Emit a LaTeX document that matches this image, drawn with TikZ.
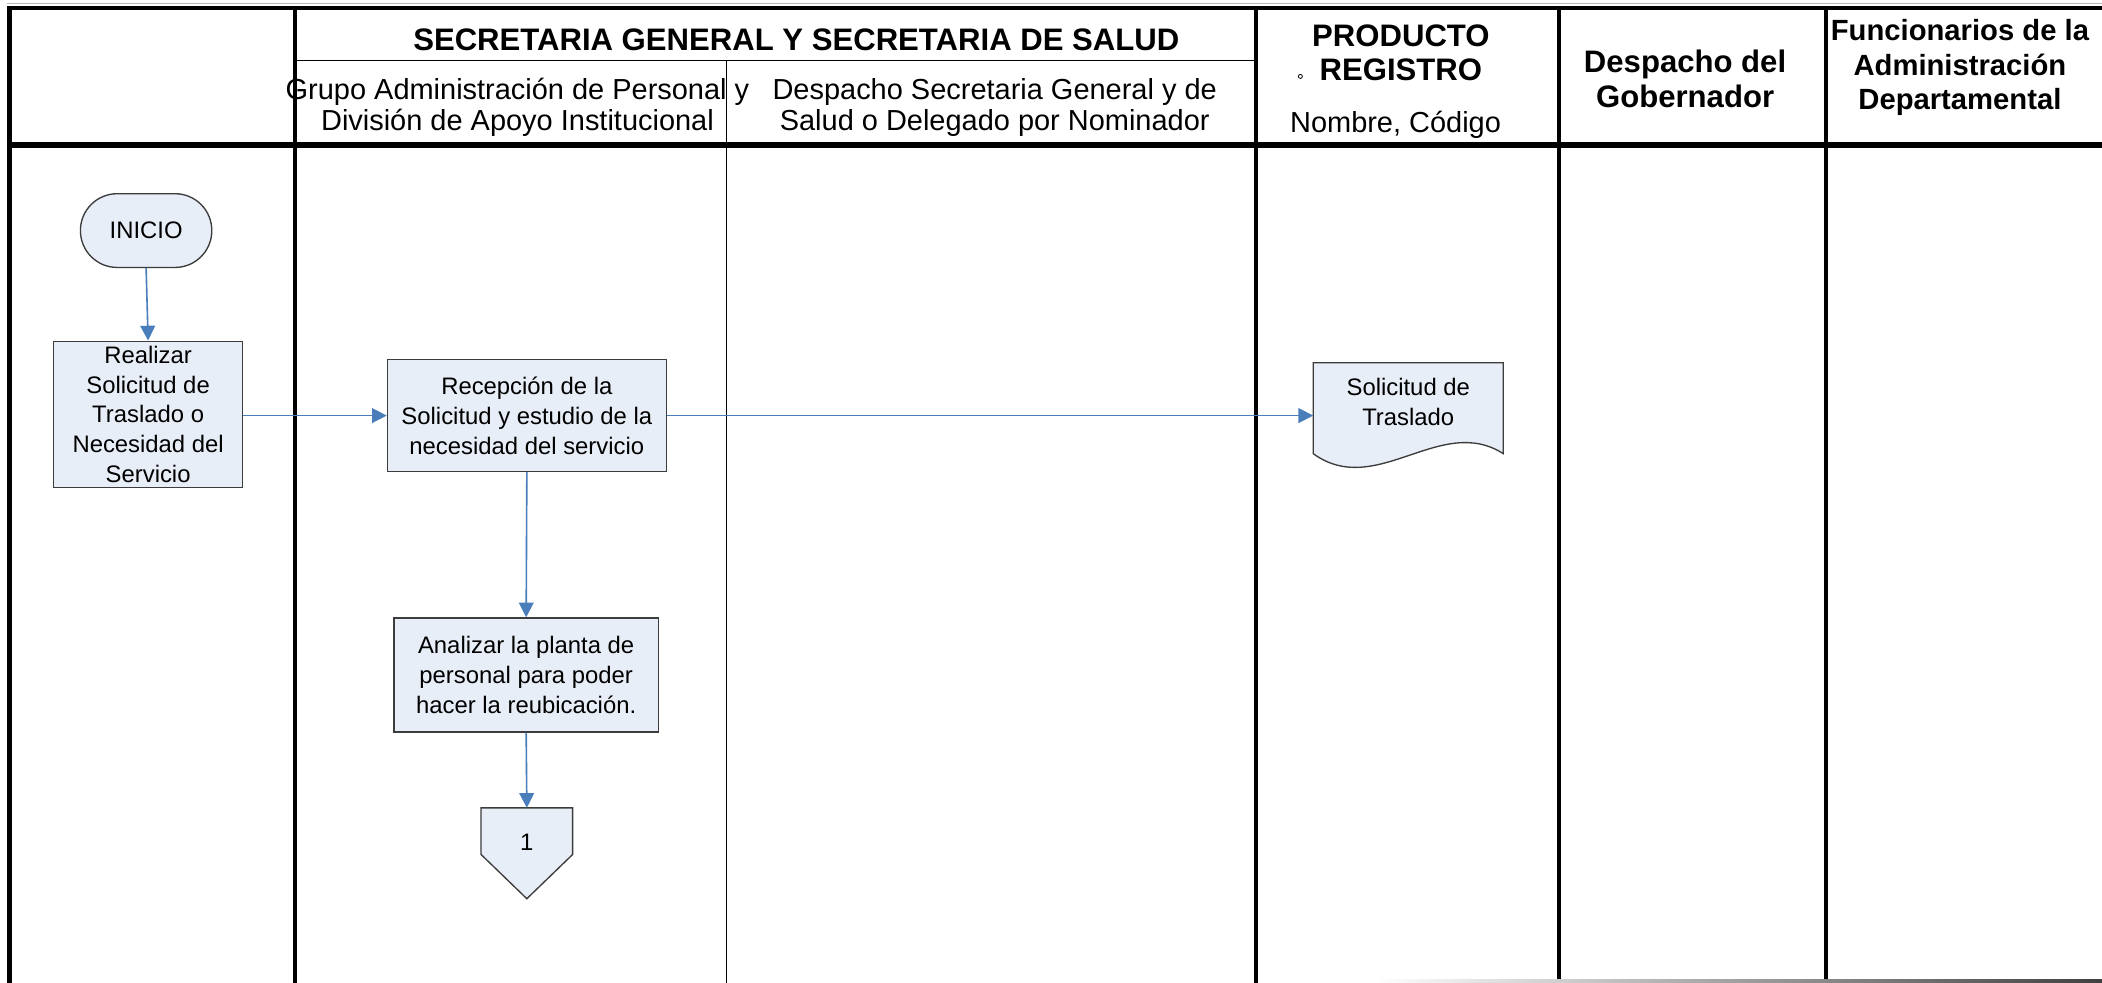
\documentclass[tikz,border=0pt]{standalone}
\usepackage{fontspec}
\setmainfont{Liberation Sans}
\usetikzlibrary{arrows.meta,calc}
\definecolor{boxfill}{HTML}{E8EEF7}
\definecolor{flowblue}{HTML}{4A7EBB}
\definecolor{boxline}{HTML}{3C3C3C}
\pgfdeclarelayer{background}
\pgfsetlayers{background,main}
\begin{document}
\begin{tikzpicture}[x=0.5pt,y=-0.5pt,
  toprule/.style={line width=1.5pt},
  thickrule/.style={line width=1.75pt},
  headrule/.style={line width=2.1pt},
  thinrule/.style={line width=0.5pt},
  hdbold/.style={font=\fontsize{11.6}{13}\selectfont\bfseries, anchor=base, inner sep=0pt},
  hdboldsm/.style={font=\fontsize{10.9}{12}\selectfont\bfseries, anchor=base, inner sep=0pt},
  hdreg/.style={font=\fontsize{10.8}{12}\selectfont, anchor=base, inner sep=0pt},
  flowbox/.style={draw=boxline, fill=boxfill, line width=0.5pt, align=center,
                  font=\fontsize{8.9}{11.1}\selectfont, inner sep=0pt},
  shapeline/.style={draw=boxline, fill=boxfill, line width=0.5pt},
  flowtext/.style={align=center, font=\fontsize{8.9}{11}\selectfont, inner sep=0pt},
  flowarrow/.style={draw=flowblue, line width=0.6pt, -{Triangle[length=5.5pt,width=5.5pt]}},
]
\useasboundingbox (0,0) rectangle (1568,733);
\begin{pgfonlayer}{background}
\fill[white] (0,0) rectangle (1568,733);
\end{pgfonlayer}

% ---------- lane frame ----------
\draw[gray!55, line width=0.6pt] (5,2.6) -- (1568,2.6);
\draw[toprule] (5,6) -- (1568,6);
\draw[thickrule] (7,5) -- (7,733);
\draw[headrule] (5,108) -- (1568,108);
\draw[thickrule] (220,5) -- (220,733);
\draw[thickrule] (937,5) -- (937,733);
\draw[thickrule] (1163,5) -- (1163,733);
\draw[thickrule] (1362,5) -- (1362,733);
\draw[thinrule] (220,45) -- (937,45);
\draw[thinrule] (542,45) -- (542,733);
\shade[left color=white, right color=black!75] (1026,730.8) rectangle (1568,732.6);

% ---------- headers ----------
\node[hdbold] (title) at (594,38) {SECRETARIA GENERAL Y SECRETARIA DE SALUD};
\node[hdreg] (grupoA) at (386,74) {Grupo Administración de Personal y};
\node[hdreg] (grupoB) at (386,97) {División de Apoyo Institucional};
\node[hdreg] (despA) at (742,74) {Despacho Secretaria General y de};
\node[hdreg] (despB) at (742,97) {Salud o Delegado por Nominador};
\node[hdbold] (prodA) at (1045,35) {PRODUCTO};
\node[hdbold] (prodB) at (1045,60) {REGISTRO};
\node[circle, draw, line width=0.3pt, inner sep=0pt, minimum size=1.5pt] (bullet) at (970,57) {};
\node[hdreg] (nombre) at (1041,99) {Nombre, Código};
\node[hdbold] (goberA) at (1257,54) {Despacho del};
\node[hdbold] (goberB) at (1257,80) {Gobernador};
\node[hdboldsm] (funcA) at (1462,30) {Funcionarios de la};
\node[hdboldsm] (funcB) at (1462,56) {Administración};
\node[hdboldsm] (funcC) at (1462,82) {Departamental};

% ---------- flow ----------
\node[flowbox, rounded corners=13.7pt, minimum width=49pt, minimum height=27.5pt] (inicio) at (109,172) {INICIO};
\node[flowbox, minimum width=70.5pt, minimum height=54.5pt] (realizar) at (110.5,309) {Realizar\\Solicitud de\\Traslado o\\Necesidad del\\Servicio};
\node[flowbox, minimum width=104pt, minimum height=41.75pt] (recep) at (393,310) {Recepción de la\\Solicitud y estudio de la\\necesidad del servicio};
\node[flowbox, minimum width=98.5pt, minimum height=42.5pt] (analizar) at (392.5,503.5) {Analizar la planta de\\personal para poder\\hacer la reubicación.};

% document shape
\node[flowtext, minimum width=70.5pt, minimum height=29pt] (doc) at (1050.5,300) {Solicitud de\\Traslado};
\begin{pgfonlayer}{background}
\path[shapeline] (doc.north west) -- (doc.north east) -- ($(doc.south east)+(0,9)$)
  .. controls ($(doc.south east)+(-47,-21)$) and ($(doc.south west)+(47,43)$) .. ($(doc.south west)+(0,9)$) -- cycle;
\end{pgfonlayer}

% off-page connector
\node[inner sep=0pt, minimum width=33.75pt, minimum height=17pt] (off) at (393,620) {};
\begin{pgfonlayer}{background}
\path[shapeline] (off.north west) -- (off.north east) -- (off.south east) -- ($(off.south)+(0,33)$) -- (off.south west) -- cycle;
\end{pgfonlayer}
\node[flowtext] (offnum) at ($(off.center)+(0,8)$) {1};

% ---------- connectors ----------
\draw[flowarrow] (inicio.south) -- (realizar.north);
\draw[flowarrow] (realizar.east |- recep.west) -- (recep.west);
\draw[flowarrow] (recep.east) -- (doc.west |- recep.east);
\draw[flowarrow] (recep.south) -- (analizar.north);
\draw[flowarrow] (analizar.south) -- (off.north);
\end{tikzpicture}
\end{document}
